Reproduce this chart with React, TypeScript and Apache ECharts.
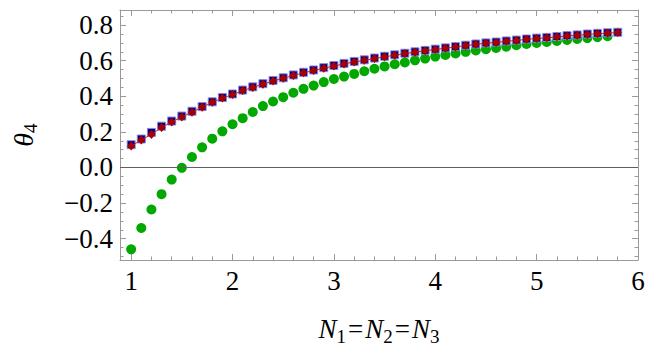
import React, { useEffect, useRef } from "react";
import * as echarts from "echarts";

const xsBlue = [
  1.0, 1.1, 1.2, 1.3, 1.4, 1.5, 1.6, 1.7, 1.8, 1.9,
  2.0, 2.1, 2.2, 2.3, 2.4, 2.5, 2.6, 2.7, 2.8, 2.9,
  3.0, 3.1, 3.2, 3.3, 3.4, 3.5, 3.6, 3.7, 3.8, 3.9,
  4.0, 4.1, 4.2, 4.3, 4.4, 4.5, 4.6, 4.7, 4.8, 4.9,
  5.0, 5.1, 5.2, 5.3, 5.4, 5.5, 5.6, 5.7, 5.8,
];
const blueValues = [
  0.128, 0.160, 0.197, 0.232, 0.261, 0.289, 0.316, 0.342, 0.369, 0.393,
  0.413, 0.435, 0.453, 0.471, 0.489, 0.504, 0.520, 0.535, 0.548, 0.561,
  0.573, 0.585, 0.596, 0.605, 0.615, 0.625, 0.633, 0.642, 0.650, 0.658,
  0.665, 0.672, 0.679, 0.687, 0.694, 0.700, 0.705, 0.711, 0.716, 0.722,
  0.727, 0.731, 0.736, 0.741, 0.745, 0.750, 0.754, 0.757, 0.760,
];
const redValues = [
  0.120, 0.155, 0.186, 0.225, 0.256, 0.284, 0.311, 0.338, 0.366, 0.390,
  0.410, 0.432, 0.450, 0.468, 0.486, 0.501, 0.517, 0.532, 0.545, 0.558,
  0.570, 0.582, 0.593, 0.602, 0.612, 0.622, 0.631, 0.640, 0.648, 0.656,
  0.663, 0.670, 0.677, 0.685, 0.692, 0.698, 0.703, 0.709, 0.714, 0.720,
  0.725, 0.729, 0.734, 0.739, 0.743, 0.748, 0.752, 0.755, 0.758,
];
const xsGreen = [
  1.0, 1.1, 1.2, 1.3, 1.4, 1.5, 1.6, 1.7, 1.8, 1.9,
  2.0, 2.1, 2.2, 2.3, 2.4, 2.5, 2.6, 2.7, 2.8, 2.9,
  3.0, 3.1, 3.2, 3.3, 3.4, 3.5, 3.6, 3.7, 3.8, 3.9,
  4.0, 4.1, 4.2, 4.3, 4.4, 4.5, 4.6, 4.7, 4.8, 4.9,
  5.0, 5.1, 5.2, 5.3, 5.4, 5.5, 5.6, 5.7,
];
const greenValues = [
  -0.460, -0.340, -0.236, -0.150, -0.068, -0.002, 0.059, 0.113, 0.162, 0.203,
  0.243, 0.277, 0.312, 0.345, 0.371, 0.395, 0.420, 0.442, 0.460, 0.480,
  0.497, 0.511, 0.526, 0.541, 0.555, 0.568, 0.580, 0.590, 0.602, 0.612,
  0.623, 0.632, 0.641, 0.650, 0.658, 0.665, 0.672, 0.679, 0.687, 0.694,
  0.700, 0.705, 0.711, 0.717, 0.722, 0.727, 0.733, 0.738,
];

const xMajor = [1, 2, 3, 4, 5, 6];
const xMinor = [
  1.2, 1.4, 1.6, 1.8, 2.2, 2.4, 2.6, 2.8, 3.2, 3.4, 3.6, 3.8,
  4.2, 4.4, 4.6, 4.8, 5.2, 5.4, 5.6, 5.8,
];
const yMajor = [-0.4, -0.2, 0, 0.2, 0.4, 0.6, 0.8];
const yMinor = [
  -0.5, -0.45, -0.35, -0.3, -0.25, -0.15, -0.1, -0.05, 0.05, 0.1, 0.15,
  0.25, 0.3, 0.35, 0.45, 0.5, 0.55, 0.65, 0.7, 0.75, 0.85,
];

const X_MIN = 0.89;
const X_MAX = 6.0;
const Y_MIN = -0.52;
const Y_MAX = 0.885;

const FONT = "Liberation Serif";
const FRAME = "#9a9a9a";

export default function App() {
  const ref = useRef<HTMLDivElement>(null);
  useEffect(() => {
    if (!ref.current) return;
    const chart = echarts.init(ref.current, null, { renderer: "svg" });

    const xAxisBase = (position: string, ticks: number[], len: number, showLine: boolean, extra: any = {}) => ({
      type: "value",
      position,
      min: X_MIN,
      max: X_MAX,
      axisLine: { show: showLine, onZero: false, lineStyle: { color: FRAME, width: 1 } },
      axisTick: { show: true, inside: true, length: len, customValues: ticks, lineStyle: { color: FRAME, width: 1 } },
      axisLabel: { show: false },
      splitLine: { show: false },
      ...extra,
    });
    const yAxisBase = (position: string, ticks: number[], len: number, showLine: boolean, extra: any = {}) => ({
      type: "value",
      position,
      min: Y_MIN,
      max: Y_MAX,
      axisLine: { show: showLine, onZero: false, lineStyle: { color: FRAME, width: 1 } },
      axisTick: { show: true, inside: true, length: len, customValues: ticks, lineStyle: { color: FRAME, width: 1 } },
      axisLabel: { show: false },
      splitLine: { show: false },
      ...extra,
    });

    const option: any = {
      animation: false,
      backgroundColor: "#fff",
      textStyle: { fontFamily: FONT, color: "#000" },
      grid: { left: 120, right: 27, top: 10, bottom: 85, containLabel: false },
      xAxis: [
        xAxisBase("bottom", xMajor, 6, true, {
          name: "{i|N}{s|1}{e|=}{i|N}{s|2}{e|=}{i|N}{s|3}",
          nameLocation: "middle",
          nameGap: 52,
          nameTextStyle: {
            fontFamily: FONT,
            rich: {
              i: { fontFamily: FONT, fontStyle: "italic", fontSize: 27, color: "#000", lineHeight: 34 },
              e: { fontFamily: FONT, fontSize: 27, color: "#000", lineHeight: 34, padding: [0, 2, 0, 2] },
              s: { fontFamily: FONT, fontSize: 19, color: "#000", lineHeight: 19, verticalAlign: "bottom" },
            },
          },
        }),
        xAxisBase("bottom", xMinor, 3.5, false),
        xAxisBase("top", xMajor, 6, true),
        xAxisBase("top", xMinor, 3.5, false),
      ],
      yAxis: [
        yAxisBase("left", yMajor, 6, true, {
          name: "{t|\u03B8}{s|4}",
          nameLocation: "middle",
          nameRotate: 90,
          nameGap: 80,
          nameTextStyle: {
            fontFamily: FONT,
            rich: {
              t: { fontFamily: FONT, fontStyle: "italic", fontSize: 28, color: "#000", lineHeight: 34 },
              s: { fontFamily: FONT, fontSize: 19, color: "#000", lineHeight: 19, verticalAlign: "bottom" },
            },
          },
        }),
        yAxisBase("left", yMinor, 3.5, false),
        yAxisBase("right", yMajor, 6, true),
        yAxisBase("right", yMinor, 3.5, false),
      ],
      series: [
        {
          type: "scatter",
          name: "green",
          xAxisIndex: 0,
          yAxisIndex: 0,
          data: xsGreen.map((x, i) => [x, greenValues[i]]),
          symbol: "circle",
          symbolSize: 10,
          itemStyle: { color: "#00a800", opacity: 1 },
          markLine: {
            silent: true,
            symbol: ["none", "none"],
            label: { show: false },
            lineStyle: { color: "#606060", width: 1, type: "solid" },
            data: [{ yAxis: 0 }],
          },
          z: 2,
        },
        {
          type: "scatter",
          name: "blue",
          xAxisIndex: 0,
          yAxisIndex: 0,
          data: xsBlue.map((x, i) => [x, blueValues[i]]),
          symbol: "rect",
          symbolSize: 8,
          itemStyle: { color: "#00008b", borderColor: "#8c8cd8", borderWidth: 1, opacity: 1 },
          z: 3,
        },
        {
          type: "line",
          name: "red",
          xAxisIndex: 0,
          yAxisIndex: 0,
          data: xsBlue.map((x, i) => [x, redValues[i]]),
          symbol: "diamond",
          symbolSize: [8, 9],
          showSymbol: true,
          lineStyle: { color: "#d02020", width: 1 },
          itemStyle: { color: "#a80000", opacity: 1 },
          z: 4,
        },
      ],
    };
    chart.setOption(option);

    // Tick labels placed through the chart's own scales (convertToPixel)
    const finder = { xAxisIndex: 0, yAxisIndex: 0 };
    const labels: any[] = [];
    xMajor.forEach((v) => {
      const p = chart.convertToPixel(finder, [v, Y_MIN]) as number[];
      labels.push({
        type: "text",
        x: p[0],
        y: p[1] + 7,
        silent: true,
        style: {
          text: String(v),
          fontFamily: FONT,
          fontSize: 27,
          fill: "#000",
          align: "center",
          verticalAlign: "top",
        },
      });
    });
    yMajor.forEach((v) => {
      const p = chart.convertToPixel(finder, [X_MIN, v]) as number[];
      labels.push({
        type: "text",
        x: p[0] - 7,
        y: p[1],
        silent: true,
        style: {
          text: v.toFixed(1).replace("-", "\u2212"),
          fontFamily: FONT,
          fontSize: 27,
          fill: "#000",
          align: "right",
          verticalAlign: "middle",
        },
      });
    });
    chart.setOption({ graphic: labels });

    return () => chart.dispose();
  }, []);

  return <div ref={ref} style={{ width: 665, height: 351, position: "absolute", left: 0, top: 0 }} />;
}
